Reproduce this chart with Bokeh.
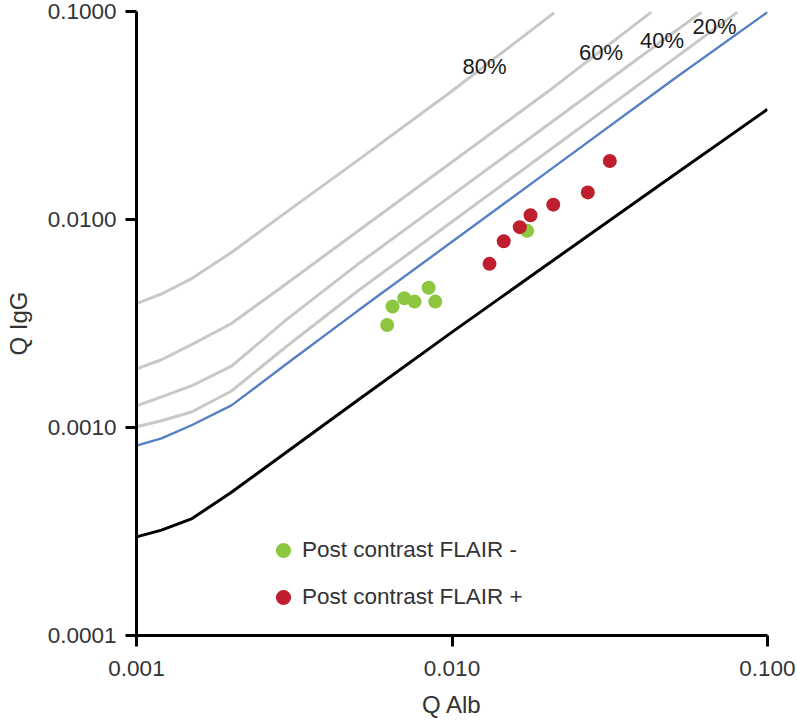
from bokeh.plotting import figure
from bokeh.models import FixedTicker, Legend, LegendItem, CustomJSTickFormatter
from bokeh.embed import file_html
from bokeh.resources import INLINE
from bokeh.core.properties import value

# ---- tick values and labels ----
x_ticks = [0.001, 0.01, 0.1]
x_tick_labels = ["0.001", "0.010", "0.100"]
y_ticks = [0.0001, 0.001, 0.01, 0.1]
y_tick_labels = ["0.0001", "0.0010", "0.0100", "0.1000"]

# ---- Reiber curves ----
curve_x = [0.001, 0.0012, 0.0015, 0.002, 0.003, 0.005, 0.01, 0.02, 0.05]

lower_x = curve_x + [0.1]
lower_y = [2.98e-4, 3.21e-4, 3.65e-4, 4.88e-4, 7.64e-4, 1.345e-3, 2.875e-3, 6.06e-3, 1.618e-2, 3.387e-2]

upper_x = curve_x + [0.1]
upper_y = [8.19e-4, 8.86e-4, 1.028e-3, 1.277e-3, 2.03e-3, 3.618e-3, 7.82e-3, 1.69e-2, 4.683e-2, 9.93e-2]

if20_x = curve_x + [0.0803]
if20_y = [1.009e-3, 1.078e-3, 1.19e-3, 1.498e-3, 2.464e-3, 4.507e-3, 9.75e-3, 2.11e-2, 5.852e-2, 9.93e-2]

if40_x = curve_x + [0.0618]
if40_y = [1.27e-3, 1.403e-3, 1.591e-3, 1.971e-3, 3.32e-3, 6.055e-3, 1.31e-2, 2.832e-2, 7.855e-2, 9.93e-2]

if60_x = curve_x[:8] + [0.0428]
if60_y = [1.913e-3, 2.117e-3, 2.51e-3, 3.161e-3, 4.942e-3, 8.727e-3, 1.889e-2, 4.087e-2, 9.93e-2]

if80_x = curve_x[:7] + [0.0211]
if80_y = [3.937e-3, 4.385e-3, 5.215e-3, 6.946e-3, 1.091e-2, 1.913e-2, 4.15e-2, 9.88e-2]

pct_labels = ["80%", "60%", "40%", "20%"]

# ---- patients ----
neg_name = "Post contrast FLAIR -"
neg_x = [0.00623, 0.00648, 0.00706, 0.00761, 0.00843, 0.00885, 0.01731]
neg_y = [0.00311, 0.00382, 0.00418, 0.00403, 0.00470, 0.00403, 0.00882]

pos_name = "Post contrast FLAIR +"
pos_x = [0.01315, 0.01459, 0.01640, 0.01774, 0.02094, 0.02694, 0.03164]
pos_y = [0.00612, 0.00786, 0.00919, 0.01048, 0.01179, 0.01350, 0.01911]

# label anchor positions (layout)
pct_label_x = [0.01268, 0.02967, 0.0463, 0.06792]
pct_label_y = [0.0543, 0.0637, 0.0722, 0.0847]

FONT = "Liberation Sans"

p = figure(width=795, height=720, x_axis_type="log", y_axis_type="log",
           x_range=(0.001, 0.1), y_range=(0.0001, 0.1),
           output_backend="svg", toolbar_location=None,
           min_border_left=136, min_border_right=28,
           min_border_top=11, min_border_bottom=79)
p.outline_line_color = None
p.grid.visible = False
p.background_fill_color = "white"
p.border_fill_color = "white"

gray = "#c8c8c8"
for cx, cy in [(if80_x, if80_y), (if60_x, if60_y), (if40_x, if40_y), (if20_x, if20_y)]:
    p.line(cx, cy, line_color=gray, line_width=3)
p.line(upper_x, upper_y, line_color="#5580c4", line_width=2.4)
p.line(lower_x, lower_y, line_color="black", line_width=3)

p.text(x=pct_label_x, y=pct_label_y, text=pct_labels, text_font=value(FONT),
       text_font_size="22px", text_align="center", text_baseline="middle",
       text_color="#1a1a1a")

g = p.scatter(neg_x, neg_y, size=14, fill_color="#8dc63f", line_color=None)
r = p.scatter(pos_x, pos_y, size=14, fill_color="#be1e2d", line_color=None)

legend = Legend(items=[LegendItem(label=neg_name, renderers=[g]),
                       LegendItem(label=pos_name, renderers=[r])],
                location=(128, 19), glyph_width=38, glyph_height=38,
                label_standoff=-7, spacing=9, padding=0, margin=0,
                border_line_color=None, background_fill_color=None,
                background_fill_alpha=0,
                label_text_font=FONT, label_text_font_size="22.5px",
                label_text_color="#333333")
p.add_layout(legend)

fmt_code = """
let best = 0, bd = Infinity;
for (let i = 0; i < tv.length; i++) {
  const d = Math.abs(Math.log10(tick) - Math.log10(tv[i]));
  if (d < bd) { bd = d; best = i; }
}
return tl[best];
"""

for ax, tks, lbls, name in [(p.xaxis[0], x_ticks, x_tick_labels, "Q Alb"),
                            (p.yaxis[0], y_ticks, y_tick_labels, "Q IgG")]:
    ax.ticker = FixedTicker(ticks=tks, minor_ticks=[])
    ax.formatter = CustomJSTickFormatter(args=dict(tv=tks, tl=lbls), code=fmt_code)
    ax.axis_line_width = 3
    ax.axis_line_color = "black"
    ax.major_tick_line_width = 3
    ax.major_tick_line_color = "black"
    ax.major_tick_out = 11
    ax.major_tick_in = 0
    ax.minor_tick_line_color = None
    ax.major_label_text_font = FONT
    ax.major_label_text_font_size = "22.5px"
    ax.major_label_text_color = "#333333"
    ax.axis_label = name
    ax.axis_label_text_font = FONT
    ax.axis_label_text_font_size = "24px"
    ax.axis_label_text_font_style = "normal"
    ax.axis_label_text_color = "#333333"

p.xaxis[0].major_label_standoff = 14
p.xaxis[0].axis_label_standoff = 12
p.yaxis[0].major_label_standoff = 9
p.yaxis[0].axis_label_standoff = 13

open("out.html", "w").write(file_html(p, INLINE))
